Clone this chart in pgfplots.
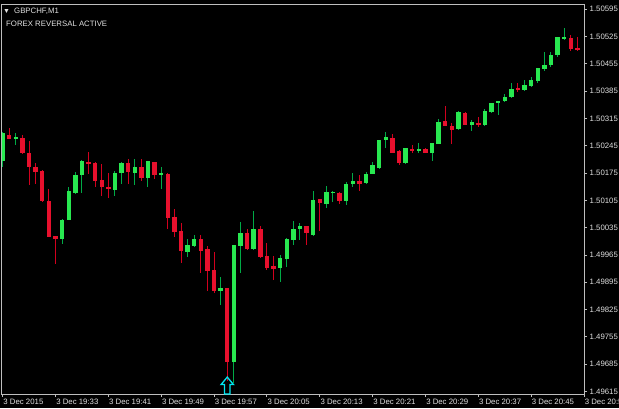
\documentclass[border=0pt]{standalone}
\usepackage{pgfplots}
\pgfplotsset{compat=1.18}
\usepackage{pgfplotstable}
\usepackage{fontspec}
\setmainfont{Liberation Sans}

\definecolor{bullbody}{RGB}{40,232,80}
\definecolor{bullwick}{RGB}{0,170,70}
\definecolor{bearbody}{RGB}{232,16,45}
\definecolor{bearwick}{RGB}{210,0,30}
\definecolor{framegray}{RGB}{190,190,190}
\definecolor{labelgray}{RGB}{225,225,225}
\definecolor{arrowcyan}{RGB}{0,230,240}

% GBPCHF M1, one row per minute from 19:25 (n = 0)
% prices stored as (price - 1.49000) * 100000, i.e. 1207 = 1.50207
\pgfplotstableread{
n o h l c
0 1207 1280 1191 1277
2 1264 1279 1248 1268
9 1005 1057 993 1056
10 1055 1139 1054 1128
11 1125 1178 1121 1171
12 1171 1209 1125 1205
17 1132 1180 1116 1176
18 1176 1203 1147 1200
20 1176 1210 1145 1191
22 1162 1207 1140 1205
24 1171 1190 1135 1174
28 973 1007 961 990
29 988 1016 985 1005
33 873 909 836 880
35 691 990 637 990
36 988 1050 920 1021
38 980 1079 978 1032
42 932 964 896 957
43 954 1009 935 1005
44 1003 1051 990 1032
45 1031 1048 1003 1039
47 1016 1128 1014 1106
49 1096 1142 1086 1127
50 1126 1130 1101 1127
52 1104 1152 1092 1147
53 1147 1176 1140 1154
55 1149 1178 1147 1173
56 1173 1203 1172 1195
57 1188 1261 1186 1260
58 1260 1280 1239 1267
61 1200 1240 1199 1239
63 1231 1253 1227 1238
65 1227 1252 1205 1251
66 1250 1314 1249 1306
69 1287 1333 1286 1332
71 1298 1311 1282 1306
73 1298 1339 1297 1333
74 1332 1355 1328 1354
75 1354 1359 1323 1359
76 1359 1378 1358 1371
77 1369 1405 1368 1391
79 1388 1414 1385 1400
80 1398 1422 1397 1414
81 1410 1445 1405 1444
82 1443 1485 1437 1453
83 1453 1485 1448 1477
84 1478 1524 1472 1523
85 1520 1547 1516 1523
}\bull

\pgfplotstableread{
n o h l c
1 1273 1291 1262 1263
3 1265 1273 1224 1226
4 1227 1258 1145 1191
5 1191 1200 1147 1178
6 1181 1182 1102 1103
7 1104 1135 1011 1012
8 1014 1014 942 1005
13 1203 1229 1173 1198
14 1200 1203 1140 1154
15 1157 1198 1116 1139
16 1140 1175 1111 1133
19 1200 1210 1147 1178
21 1191 1212 1155 1162
23 1203 1204 1160 1171
25 1173 1174 1031 1060
26 1063 1082 1012 1025
27 1026 1046 944 975
30 1005 1017 920 975
31 980 988 873 924
32 927 973 868 873
34 880 881 642 691
37 1021 1032 978 981
39 1032 1039 957 959
40 962 997 927 932
41 937 962 901 928
46 1039 1040 990 1021
48 1108 1108 1027 1098
51 1123 1127 1096 1104
54 1154 1169 1130 1147
59 1265 1275 1226 1227
60 1232 1233 1195 1200
62 1238 1248 1226 1231
64 1238 1239 1226 1227
67 1308 1347 1295 1296
68 1296 1304 1250 1286
70 1328 1332 1298 1299
72 1303 1318 1292 1298
78 1393 1405 1383 1388
86 1521 1528 1489 1494
87 1497 1523 1489 1492
}\bear

% outlined up arrow, tip at the data point
\pgfdeclareplotmark{sigarrow}{%
  \pgfpathmoveto{\pgfqpoint{0pt}{0pt}}%
  \pgfpathlineto{\pgfqpoint{6.2pt}{-7.5pt}}%
  \pgfpathlineto{\pgfqpoint{2.8pt}{-7.5pt}}%
  \pgfpathlineto{\pgfqpoint{2.8pt}{-17pt}}%
  \pgfpathlineto{\pgfqpoint{-2.8pt}{-17pt}}%
  \pgfpathlineto{\pgfqpoint{-2.8pt}{-7.5pt}}%
  \pgfpathlineto{\pgfqpoint{-6.2pt}{-7.5pt}}%
  \pgfpathclose
  \pgfusepathqstroke}

\begin{document}
\begin{tikzpicture}
\useasboundingbox (0,0) rectangle (619pt,408pt);
\fill[black] (0,0) rectangle (619pt,408pt);
\begin{axis}[
    at={(2pt,14pt)}, anchor=south west,
    scale only axis, width=582pt, height=389.5pt,
    xmin=-0.1, xmax=88, ymin=608.6, ymax=1607.3,
    axis line style={framegray, line width=1pt},
    tick style={framegray, line width=1pt},
    tick align=outside, major tick length=3pt,
    xtick pos=bottom, ytick pos=right, yticklabel pos=right,
    xtick={0,8,...,88},
    xticklabels={3 Dec 2015, 3 Dec 19:33, 3 Dec 19:41, 3 Dec 19:49, 3 Dec 19:57,
        3 Dec 20:05, 3 Dec 20:13, 3 Dec 20:21, 3 Dec 20:29, 3 Dec 20:37,
        3 Dec 20:45, 3 Dec 20:53},
    ytick={615,685,...,1595},
    yticklabels={1.49615,1.49685,1.49755,1.49825,1.49895,1.49965,1.50035,
        1.50105,1.50175,1.50245,1.50315,1.50385,1.50455,1.50525,1.50595},
    ticklabel style={font=\fontsize{7.8}{9}\selectfont, text=labelgray, inner sep=0pt},
    xticklabel style={anchor=north west, xshift=0.6pt, yshift=-2pt},
    yticklabel style={anchor=west, xshift=2.5pt},
]
% wicks
\addplot[draw=none, mark=none, forget plot,
    error bars/.cd, y dir=both, y explicit, error mark=none,
    error bar style={solid, draw=bullwick, line width=1pt}]
    table[x=n, y expr=(\thisrow{h}+\thisrow{l})/2,
          y error expr=(\thisrow{h}-\thisrow{l})/2] {\bull};
\addplot[draw=none, mark=none, forget plot,
    error bars/.cd, y dir=both, y explicit, error mark=none,
    error bar style={solid, draw=bearwick, line width=1pt}]
    table[x=n, y expr=(\thisrow{h}+\thisrow{l})/2,
          y error expr=(\thisrow{h}-\thisrow{l})/2] {\bear};
% bodies
\addplot[draw=none, mark=none, forget plot,
    error bars/.cd, y dir=both, y explicit, error mark=none,
    error bar style={solid, draw=bullbody, line width=4.4pt}]
    table[x=n, y expr=(\thisrow{o}+\thisrow{c})/2,
          y error expr={max(abs(\thisrow{c}-\thisrow{o})/2,1.3)}] {\bull};
\addplot[draw=none, mark=none, forget plot,
    error bars/.cd, y dir=both, y explicit, error mark=none,
    error bar style={solid, draw=bearbody, line width=4.4pt}]
    table[x=n, y expr=(\thisrow{o}+\thisrow{c})/2,
          y error expr={max(abs(\thisrow{o}-\thisrow{c})/2,1.3)}] {\bear};
% reversal signal
\addplot[only marks, mark=sigarrow,
    mark options={draw=arrowcyan, line width=1.3pt, solid}]
    coordinates {(34,652)};
\end{axis}
\node[anchor=center, inner sep=0pt, text=labelgray, font=\fontsize{7}{7}\selectfont]
    at (6.5pt,396.8pt) {▼};
\node[anchor=west, inner sep=0pt, text=labelgray, font=\fontsize{7.8}{9}\selectfont]
    at (14pt,396.5pt) {GBPCHF,M1};
\node[anchor=west, inner sep=0pt, text=labelgray, font=\fontsize{7.8}{9}\selectfont]
    at (6pt,384pt) {FOREX REVERSAL ACTIVE};
\end{tikzpicture}
\end{document}
